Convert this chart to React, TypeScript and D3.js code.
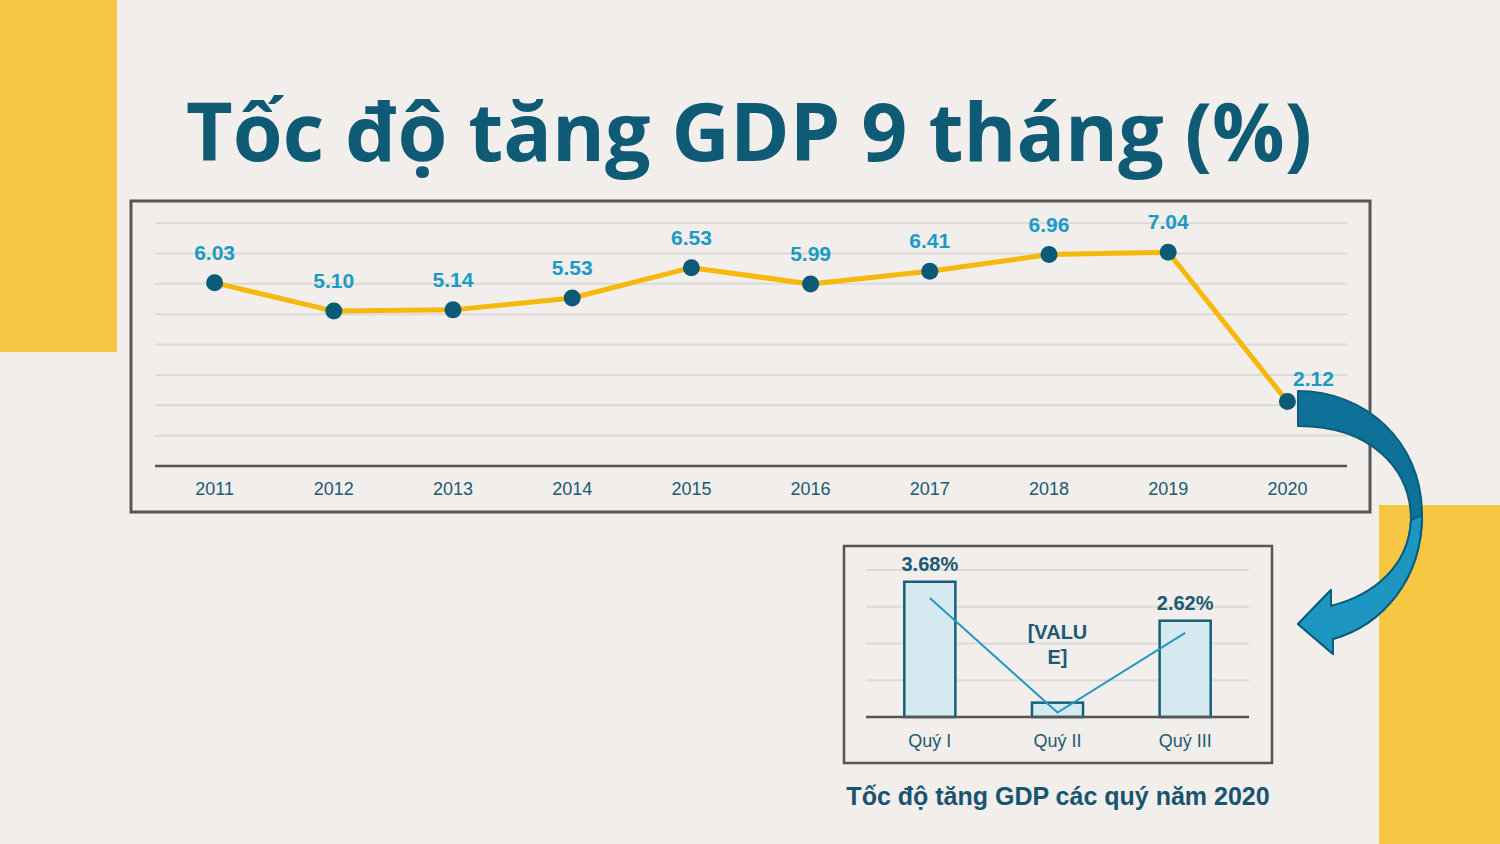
import React from "react";
import * as d3 from "d3";

// main chart data (9-month GDP growth, %)
const years = ["2011", "2012", "2013", "2014", "2015", "2016", "2017", "2018", "2019", "2020"];
const growth = [6.03, 5.1, 5.14, 5.53, 6.53, 5.99, 6.41, 6.96, 7.04, 2.12];
const growthLabels = ["6.03", "5.10", "5.14", "5.53", "6.53", "5.99", "6.41", "6.96", "7.04", "2.12"];
const mainTicks = [1, 2, 3, 4, 5, 6, 7, 8];

// 2020 quarterly chart
const quarters = ["Quý I", "Quý II", "Quý III"];
const quarterBars = [3.68, 0.39, 2.62];
const quarterLine = [3.24, 0.12, 2.29];
const quarterLabels = [["3.68%"], ["[VALU", "E]"], ["2.62%"]];
const quarterTicks = [1, 2, 3, 4];

const BG = "#f1eeeb";
const YELLOW = "#f7c744";
const TEAL = "#0f5a74";
const LABEL_BLUE = "#1b9ac6";
const FONT = "'Liberation Sans', Arial, sans-serif";

const App: React.FC = () => {
  // main chart scales
  const x = d3.scaleBand<string>().domain(years).range([155, 1347]);
  const y = d3.scaleLinear().domain([0, 8]).range([466, 223]);
  const cx = (d: string) => (x(d) as number) + x.bandwidth() / 2;

  const line = d3
    .line<number>()
    .x((_, i) => cx(years[i]))
    .y((d) => y(d));

  // small chart scales
  const qx = d3.scaleBand<string>().domain(quarters).range([866, 1249]).paddingInner(0.6).paddingOuter(0.3);
  const qy = d3.scaleLinear().domain([0, 4]).range([717, 570]);
  const qcx = (d: string) => (qx(d) as number) + qx.bandwidth() / 2;
  const qline = d3
    .line<number>()
    .x((_, i) => qcx(quarters[i]))
    .y((d) => qy(d));

  const arrowPath =
    "M1298,391 C1364,391 1422,440 1422,515 C1422,580 1382,625 1333,639 L1333,654 L1298,624 L1331,590 L1331,606 C1374,595 1409,566 1411,520 C1411,468 1370,426 1298,426 Z";
  const arrowLower =
    "M1422,515 C1422,580 1382,625 1333,639 L1333,654 L1298,624 L1331,590 L1331,606 C1374,595 1409,566 1411,520 Z";

  return (
    <svg
      width={1500}
      height={844}
      style={{ position: "absolute", left: 0, top: 0, display: "block" }}
    >
      <rect x={0} y={0} width={1500} height={844} fill={BG} />
      <rect x={0} y={0} width={117} height={352} fill={YELLOW} />
      <rect x={1379} y={505} width={121} height={339} fill={YELLOW} />

      <text
        x={749}
        y={161}
        textAnchor="middle"
        fontFamily="'Open Sans', 'Noto Sans', sans-serif"
        fontWeight={700}
        fontSize={80}
        fill={TEAL}
        textLength={1126}
        lengthAdjust="spacingAndGlyphs"
      >
        Tốc độ tăng GDP 9 tháng (%)
      </text>

      {/* main chart */}
      <rect x={131} y={201} width={1239} height={311} fill="none" stroke="#565656" strokeWidth={3} />
      {mainTicks.map((t) => (
        <line key={t} x1={155} x2={1347} y1={y(t)} y2={y(t)} stroke="#dcdad8" strokeWidth={2} />
      ))}
      <line x1={155} x2={1347} y1={y(0)} y2={y(0)} stroke="#555" strokeWidth={2.5} />
      {years.map((yr) => (
        <text key={yr} x={cx(yr)} y={495} textAnchor="middle" fontFamily={FONT} fontSize={18} fill="#1d5a73">
          {yr}
        </text>
      ))}
      <path d={line(growth) as string} fill="none" stroke="#f6b80a" strokeWidth={5} strokeLinejoin="round" />
      {growth.map((v, i) => (
        <circle key={i} cx={cx(years[i])} cy={y(v)} r={8.5} fill="#0b5a78" />
      ))}
      {growth.map((v, i) => {
        const last = i === growth.length - 1;
        return (
          <text
            key={i}
            x={cx(years[i]) + (last ? 26 : 0)}
            y={y(v) + (last ? -16 : -23)}
            textAnchor="middle"
            fontFamily={FONT}
            fontWeight={700}
            fontSize={21}
            fill={LABEL_BLUE}
          >
            {growthLabels[i]}
          </text>
        );
      })}

      {/* curved arrow */}
      <path d={arrowPath} fill="#0e7198" stroke="#0b5d7e" strokeWidth={2} strokeLinejoin="round" />
      <path d={arrowLower} fill="#1e96c2" stroke="#0b5d7e" strokeWidth={2} strokeLinejoin="round" />

      {/* quarterly chart */}
      <rect x={844} y={546} width={428} height={217} fill="none" stroke="#565656" strokeWidth={2.5} />
      {quarterTicks.map((t) => (
        <line key={t} x1={866} x2={1249} y1={qy(t)} y2={qy(t)} stroke="#dcdad8" strokeWidth={2} />
      ))}
      {quarters.map((q, i) => (
        <rect
          key={q}
          x={qx(q)}
          y={qy(quarterBars[i])}
          width={qx.bandwidth()}
          height={qy(0) - qy(quarterBars[i])}
          fill="#d5e9f0"
          stroke="#175f7a"
          strokeWidth={2.5}
        />
      ))}
      <line x1={866} x2={1249} y1={qy(0)} y2={qy(0)} stroke="#555" strokeWidth={2.5} />
      <path d={qline(quarterLine) as string} fill="none" stroke="#2398c5" strokeWidth={2} />
      {quarters.map((q) => (
        <text key={q} x={qcx(q)} y={747} textAnchor="middle" fontFamily={FONT} fontSize={18} fill="#1d5a73">
          {q}
        </text>
      ))}
      {quarters.map((q, i) => {
        const lines = quarterLabels[i];
        const baseY = lines.length > 1 ? 639 : qy(quarterBars[i]) - 11;
        return (
          <text
            key={q}
            x={qcx(q)}
            y={baseY}
            textAnchor="middle"
            fontFamily={FONT}
            fontWeight={700}
            fontSize={20}
            fill="#1b5a74"
          >
            {lines.map((l, j) => (
              <tspan key={j} x={qcx(q)} dy={j === 0 ? 0 : 25}>
                {l}
              </tspan>
            ))}
          </text>
        );
      })}
      <text
        x={1058}
        y={805}
        textAnchor="middle"
        fontFamily={FONT}
        fontWeight={700}
        fontSize={25}
        fill="#17546e"
      >
        Tốc độ tăng GDP các quý năm 2020
      </text>
    </svg>
  );
};

export default App;
